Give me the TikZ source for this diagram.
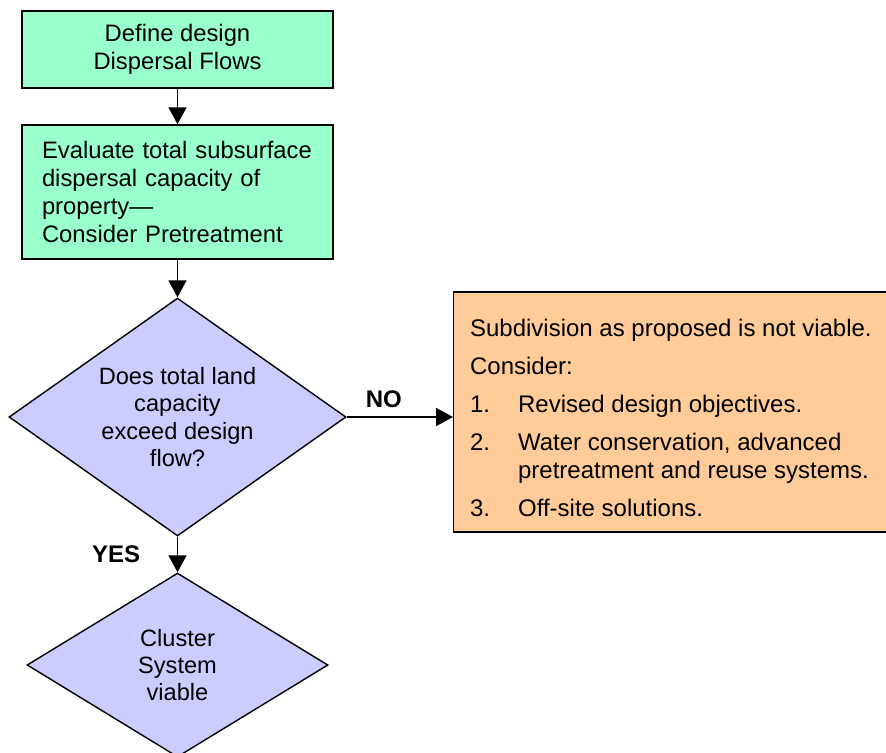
\documentclass[tikz,border=0pt]{standalone}
\usepackage{fontspec}
\setmainfont{Liberation Sans}
\usepackage{tikz}
\usetikzlibrary{arrows.meta,positioning,shapes.geometric}
\definecolor{stepgreen}{RGB}{153,255,204}
\definecolor{askblue}{RGB}{204,204,255}
\definecolor{noteorange}{RGB}{255,204,153}

\begin{document}
\begin{tikzpicture}[x=0.5pt, y=-0.5pt,
    box/.style={draw, line width=0.7pt, minimum width=155.5pt,
                font=\fontsize{11.9}{14}\selectfont},
    ask/.style={draw, diamond, fill=askblue, line width=0.7pt, inner sep=0pt,
                align=center, font=\fontsize{11.8}{13.7}\selectfont},
    arr/.style={-{Triangle[length=8.5pt, width=9pt]}, line width=0.7pt},
    tag/.style={font=\fontsize{12}{13}\selectfont\bfseries},
]
\useasboundingbox (0,0) rectangle (886,752);

% Design flows box
\node[box, fill=stepgreen, minimum height=38.5pt, align=center] (flows) at (177.5,49.5)
    {Define design\\Dispersal Flows};

% Capacity box
\node[box, fill=stepgreen, minimum height=67pt, inner xsep=10pt, text width=135.5pt,
      align=left] (capacity) at (177.5,192)
    {Evaluate total subsurface\\dispersal capacity of\\property---\\Consider Pretreatment};

% Land capacity question
\node[ask, shape aspect=1.42, minimum width=168.5pt, minimum height=119pt] (land) at (177.5,417)
    {Does total land\\capacity\\exceed design\\flow?};

% Cluster system
\node[ask, shape aspect=1.6, minimum width=150.5pt, minimum height=92pt] (cluster) at (177.5,665)
    {Cluster\\System\\viable};

% Not viable note
\node[draw, fill=noteorange, line width=0.7pt, minimum width=216pt, minimum height=120pt,
      inner xsep=8.2pt, align=left, anchor=west,
      font=\fontsize{12}{14}\selectfont] (note) at (453,412)
    {\rule{0pt}{14.5pt}Subdivision as proposed is not viable.\\[5pt]
     Consider:\\[5pt]
     \makebox[24pt][l]{1.}Revised design objectives.\\[5pt]
     \makebox[24pt][l]{2.}Water conservation, advanced\\
     \hspace*{24pt}pretreatment and reuse systems.\\[5pt]
     \makebox[24pt][l]{3.}Off-site solutions.};

% Connectors
\draw[arr] (flows) -- (capacity);
\draw[arr] (capacity) -- (land);
\draw[arr] (land.east) -- (land.east -| note.west)
    node[pos=0.35, above=1pt, tag] {NO};
\draw[arr] (land) -- (cluster)
    node[midway, left=15pt, tag] {YES};
\end{tikzpicture}
\end{document}
